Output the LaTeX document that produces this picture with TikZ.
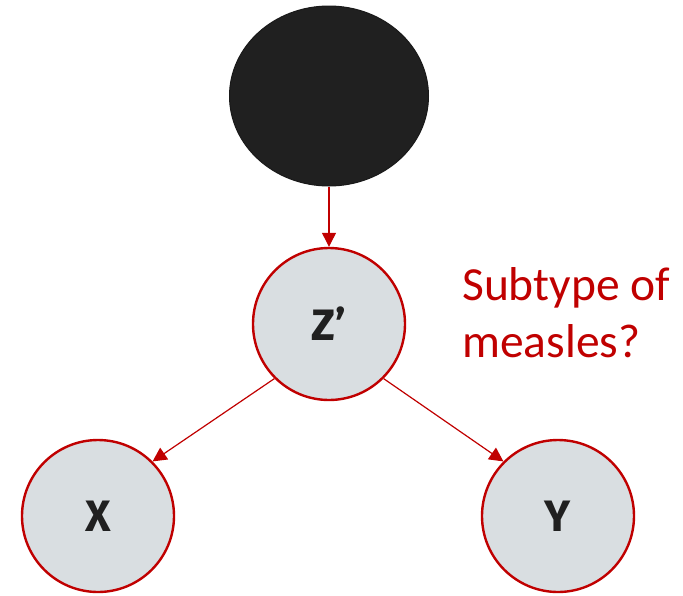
\documentclass[tikz,border=0pt]{standalone}
\usepackage{fontspec}
\setmainfont{Carlito}
\newfontfamily\labfont{Fira Sans}
\usetikzlibrary{shapes.geometric,arrows.meta}
\definecolor{dred}{HTML}{C00000}
\definecolor{nfill}{HTML}{D9DEE1}
\definecolor{blk}{HTML}{202020}
\tikzset{
  var/.style={circle, draw=dred, line width=2.4pt, fill=nfill, minimum size=152pt, inner sep=0pt,
    font=\labfont\bfseries\fontsize{44}{48}\selectfont, text=blk},
  edge/.style={draw=dred, line width=1.2pt, -{Triangle[length=14pt,width=14pt]}},
  note/.style={text=dred, font=\fontsize{47.5}{56}\selectfont, anchor=base west, inner sep=0pt}
}
\begin{document}
\begin{tikzpicture}[x=1pt,y=-1pt]
\useasboundingbox (0,0) rectangle (683,595);
\node[ellipse, fill=blk, draw=black!90, line width=1pt, minimum width=199pt, minimum height=180pt] (U) at (329,96) {};
\node[var] (Z) at (329,324) {Z’};
\node[var] (X) at (98,516) {X};
\node[var] (Y) at (558,516) {Y};
\draw[edge] (U.south) -- (Z.north);
\draw[edge] (Z.225) -- (X.45);
\draw[edge] (Z.315) -- (Y.135);
\node[note] (t1) at (462,300) {Subtype of};
\node[note] (t2) at (462,357) {measles?};
\end{tikzpicture}
\end{document}
